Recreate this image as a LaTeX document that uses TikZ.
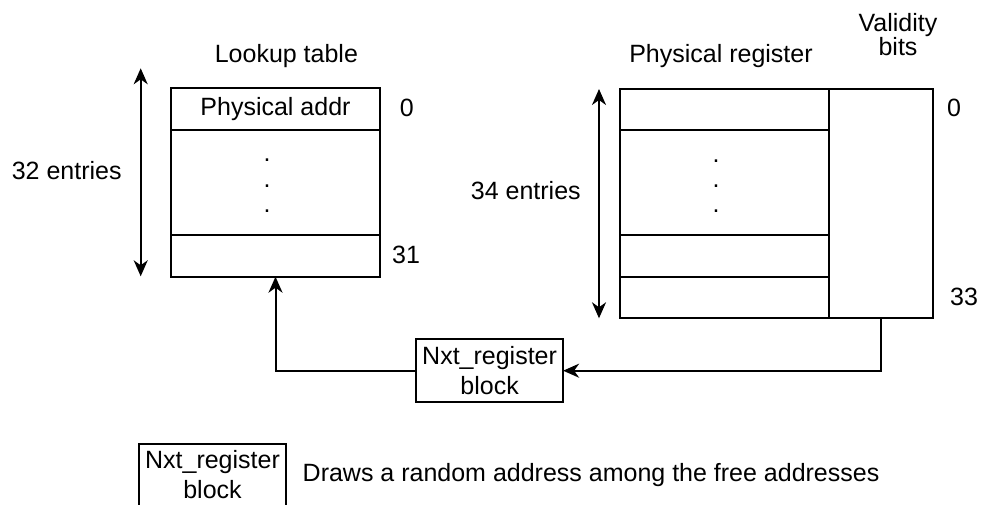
\documentclass[tikz,border=0pt]{standalone}
\usepackage{fontspec}
\setmainfont{Liberation Sans}
\usetikzlibrary{arrows.meta}
\begin{document}
\begin{tikzpicture}[x=1pt,y=-1pt,
  every node/.style={font=\fontsize{25pt}{30pt}\selectfont, inner sep=0pt, outer sep=0pt},
  cell/.style={draw, line width=2pt},
  lbl/.style={anchor=base},
  conn/.style={draw, line width=2pt},
  hd/.tip={Stealth[length=16pt,width=14pt,inset=5pt]}]
\useasboundingbox (0,0) rectangle (982,505);

% Lookup table
\node[lbl] (lttitle) at (286.4,63) {Lookup table};
\node[cell, minimum width=209pt, minimum height=42pt] (lt0) at (275.5,109.3) {Physical addr};
\node[cell, minimum width=209pt, minimum height=104.4pt] (ltm) at (275.5,182.5) {};
\node[cell, minimum width=209pt, minimum height=42pt] (lt31) at (275.5,255.7) {};
\node[lbl] (ltd1) at (267,161.5) {.};
\node[lbl] (ltd2) at (267,187.2) {.};
\node[lbl] (ltd3) at (267,212.8) {.};
\node[lbl] (lt0lbl) at (406.7,116.7) {0};
\node[lbl] (lt31lbl) at (406,263.3) {31};
\node[lbl] (lten) at (66.7,179.3) {32 entries};
\coordinate (a1t) at (140.7,68.3);
\coordinate (a1b) at (140.7,276.3);
\draw[conn,{hd}-{hd}] (a1t) -- (a1b);

% Physical register
\node[lbl] (prtitle) at (721,63) {Physical register};
\node[anchor=north, align=center, font=\fontsize{25pt}{22.8pt}\selectfont] (vbtitle) at (898,13.5) {Validity\\bits};
\node[cell, minimum width=208.7pt, minimum height=41.6pt] (pr0) at (724.35,109.5) {};
\node[cell, minimum width=208.7pt, minimum height=104.4pt] (prm) at (724.35,182.5) {};
\node[cell, minimum width=208.7pt, minimum height=42pt] (pr32) at (724.35,255.7) {};
\node[cell, minimum width=208.7pt, minimum height=41.6pt] (pr33) at (724.35,297.5) {};
\node[cell, minimum width=104.6pt, minimum height=229.6pt] (val) at (881,203.5) {};
\node[lbl] (prd1) at (716,162.2) {.};
\node[lbl] (prd2) at (716,187.5) {.};
\node[lbl] (prd3) at (716,212.8) {.};
\node[lbl] (pr0lbl) at (954,116.7) {0};
\node[lbl] (pr33lbl) at (964,305) {33};
\node[lbl] (pren) at (525.8,200) {34 entries};
\coordinate (a2t) at (599,89);
\coordinate (a2b) at (599,318.3);
\draw[conn,{hd}-{hd}] (a2t) -- (a2b);

% Nxt_register block
\node[cell, minimum width=147pt, minimum height=62.5pt, align=center] (nxt) at (489.6,370.7) {Nxt\_register\\block};
\draw[conn,-{hd}] (nxt.west) -| (lt31.south);
\draw[conn,-{hd}] (val.south) |- (nxt.east);

% Legend
\node[cell, minimum width=146.4pt, minimum height=62.5pt, align=center] (leg) at (212.5,475) {Nxt\_register\\block};
\node[anchor=base west] (legtxt) at (302.7,481.7) {Draws a random address among the free addresses};
\end{tikzpicture}
\end{document}
